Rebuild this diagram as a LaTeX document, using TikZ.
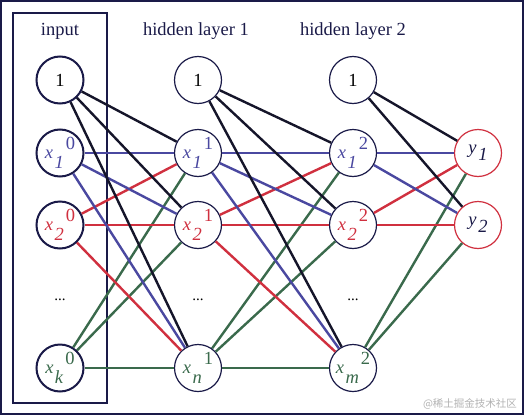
\documentclass[tikz,border=0pt]{standalone}
\usepackage{fontspec}
\setmainfont{Liberation Serif}
\newfontfamily\cjk{Noto Sans CJK SC}
\definecolor{navy}{HTML}{1A1A48}
\definecolor{lblack}{HTML}{15152A}
\definecolor{lblue}{HTML}{4A48A0}
\definecolor{lred}{HTML}{D0303F}
\definecolor{lgreen}{HTML}{3A6A4C}
\newcommand\nlab[3]{\textit{#1}\kern1.5pt\raisebox{-10.5pt}{\textit{#2}}\kern2pt\raisebox{9pt}{#3}}
\tikzset{
  neuron/.style={circle,draw=navy,fill=white,line width=1.2pt,minimum size=47pt,inner sep=0pt,font=\fontsize{18.5}{20}\selectfont},
  inneuron/.style={neuron,line width=2pt},
  outneuron/.style={neuron,draw=lred},
  title/.style={font=\fontsize{18.5}{21}\selectfont,text=navy},
  dots/.style={font=\fontsize{15}{18}\selectfont},
  conn/.style={line width=2.4pt},
  cblack/.style={conn,draw=lblack},
  cblue/.style={conn,draw=lblue},
  cred/.style={conn,draw=lred},
  cgreen/.style={conn,draw=lgreen},
}
\begin{document}
\begin{tikzpicture}[x=1pt,y=-1pt]
\useasboundingbox (0,0) rectangle (524,415);
\draw[navy,line width=2.5pt] (1.2,1.2) rectangle (522.8,413.8);
\draw[navy,line width=2.6pt] (13,13) rectangle (107,403);
% titles
\node[title] (t0) at (60,31) {input};
\node[title] (t1) at (196,31) {hidden layer 1};
\node[title] (t2) at (353,31) {hidden layer 2};
% nodes
\node[inneuron] (b0) at (60,80) {1};
\node[inneuron,text=lblue] (a1) at (60,153) {\nlab{x}{1}{0}};
\node[inneuron,text=lred] (a2) at (60,225) {\nlab{x}{2}{0}};
\node[dots] (d0) at (60,300) {...};
\node[inneuron,text=lgreen] (ak) at (60,368) {\nlab{x}{k}{0}};
\node[neuron] (b1) at (198,80) {1};
\node[neuron,text=lblue] (h1) at (198,153) {\nlab{x}{1}{1}};
\node[neuron,text=lred] (h2) at (198,225) {\nlab{x}{2}{1}};
\node[dots] (d1) at (198,300) {...};
\node[neuron,text=lgreen] (hn) at (198,368) {\nlab{x}{n}{1}};
\node[neuron] (b2) at (353,80) {1};
\node[neuron,text=lblue] (g1) at (353,153) {\nlab{x}{1}{2}};
\node[neuron,text=lred] (g2) at (353,225) {\nlab{x}{2}{2}};
\node[dots] (d2) at (353,300) {...};
\node[neuron,text=lgreen] (gm) at (353,368) {\nlab{x}{m}{2}};
\node[outneuron,text=navy] (y1) at (478,153) {\textit{y}\kern2pt\raisebox{-7pt}{\textit{1}}};
\node[outneuron,text=navy] (y2) at (478,225) {\textit{y}\kern2pt\raisebox{-7pt}{\textit{2}}};
\node[font=\cjk\fontsize{10.5}{12}\selectfont,text=black!30] (wm) at (470,404) {@稀土掘金技术社区};
% connections
\foreach \t in {h1,h2,hn}{
  \draw[cblack] (b0) -- (\t);
  \draw[cblue] (a1) -- (\t);
  \draw[cred] (a2) -- (\t);
  \draw[cgreen] (ak) -- (\t);
}
\foreach \t in {g1,g2,gm}{
  \draw[cblack] (b1) -- (\t);
  \draw[cblue] (h1) -- (\t);
  \draw[cred] (h2) -- (\t);
  \draw[cgreen] (hn) -- (\t);
}
\foreach \t in {y1,y2}{
  \draw[cblack] (b2) -- (\t);
  \draw[cblue] (g1) -- (\t);
  \draw[cred] (g2) -- (\t);
  \draw[cgreen] (gm) -- (\t);
}
\end{tikzpicture}
\end{document}
